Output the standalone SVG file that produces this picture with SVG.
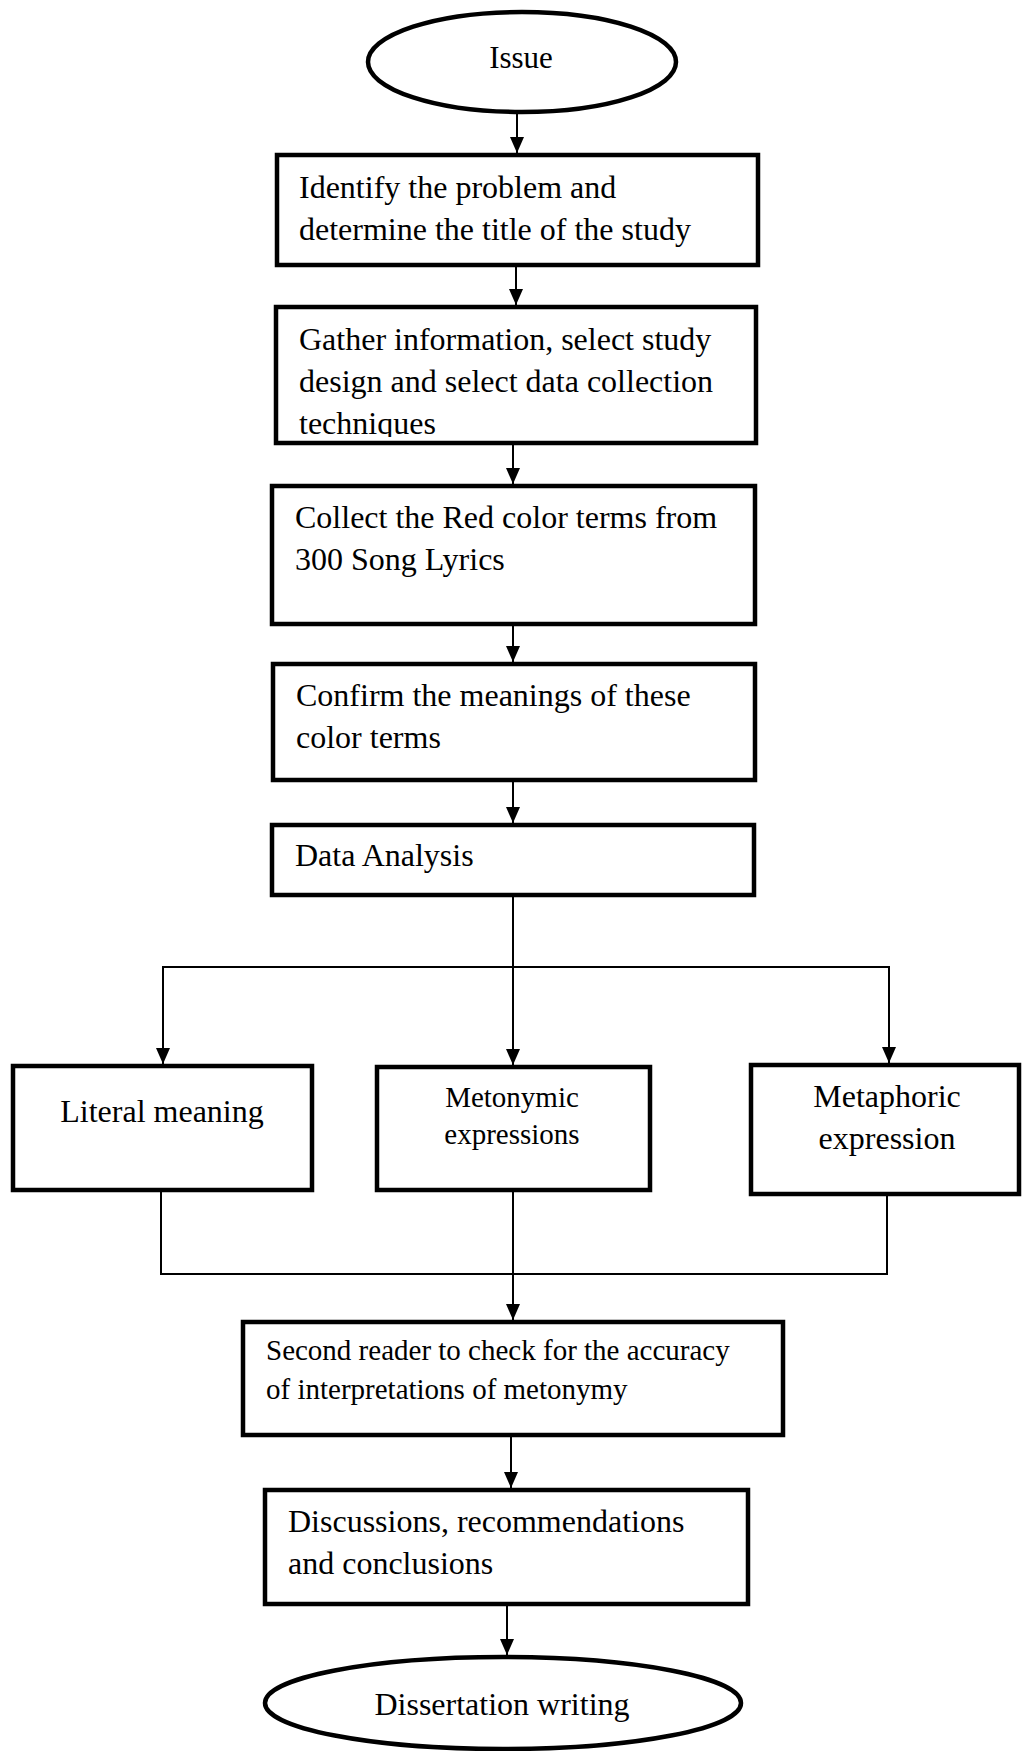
<svg xmlns="http://www.w3.org/2000/svg" width="1023" height="1751" viewBox="0 0 1023 1751">
<style>
.box{fill:#fff;stroke:#000;stroke-width:4.5}
.term{fill:#fff;stroke:#000;stroke-width:4.5}
.t{font-family:"Liberation Serif","Times New Roman",serif;font-size:32px;fill:#000}
.s{font-size:29px}
.c{text-anchor:middle}
.ln{fill:none;stroke:#000;stroke-width:2}
</style>
<defs>
<marker id="ah" viewBox="0 0 16 14" refX="16" refY="7" markerWidth="16" markerHeight="14" markerUnits="userSpaceOnUse" orient="auto">
<path d="M0,0 L16,7 L0,14 z" fill="#000"/>
</marker>
<clipPath id="clip2"><rect x="278" y="309" width="476" height="128"/></clipPath>
</defs>
<rect width="1023" height="1751" fill="#fff"/>

<g id="connectors">
<line class="ln" x1="517" y1="112" x2="517" y2="153" marker-end="url(#ah)"/>
<line class="ln" x1="516" y1="267" x2="516" y2="305" marker-end="url(#ah)"/>
<line class="ln" x1="513" y1="445" x2="513" y2="484" marker-end="url(#ah)"/>
<line class="ln" x1="513" y1="626" x2="513" y2="662" marker-end="url(#ah)"/>
<line class="ln" x1="513" y1="782" x2="513" y2="823" marker-end="url(#ah)"/>
<line class="ln" x1="513" y1="897" x2="513" y2="967"/>
<line class="ln" x1="162" y1="967" x2="890" y2="967"/>
<line class="ln" x1="163" y1="967" x2="163" y2="1064" marker-end="url(#ah)"/>
<line class="ln" x1="513" y1="967" x2="513" y2="1065" marker-end="url(#ah)"/>
<line class="ln" x1="889" y1="967" x2="889" y2="1063" marker-end="url(#ah)"/>
<line class="ln" x1="161" y1="1192" x2="161" y2="1274"/>
<line class="ln" x1="887" y1="1196" x2="887" y2="1274"/>
<line class="ln" x1="160" y1="1274" x2="888" y2="1274"/>
<line class="ln" x1="513" y1="1192" x2="513" y2="1320" marker-end="url(#ah)"/>
<line class="ln" x1="511" y1="1437" x2="511" y2="1488" marker-end="url(#ah)"/>
<line class="ln" x1="507" y1="1606" x2="507" y2="1655" marker-end="url(#ah)"/>
</g>

<g id="issue">
<ellipse class="term" cx="522" cy="62" rx="154" ry="50"/>
<text class="t c" x="521" y="68" style="font-size:31px">Issue</text>
</g>

<g id="identify">
<rect class="box" x="277" y="155" width="481" height="110"/>
<text class="t" x="299" y="198">Identify the problem and</text>
<text class="t" x="299" y="240">determine the title of the study</text>
</g>

<g id="gather">
<rect class="box" x="276" y="307" width="480" height="136"/>
<g clip-path="url(#clip2)">
<text class="t" x="299" y="350">Gather information, select study</text>
<text class="t" x="299" y="392">design and select data collection</text>
<text class="t" x="299" y="434">techniques</text>
</g>
</g>

<g id="collect">
<rect class="box" x="272" y="486" width="483" height="138"/>
<text class="t" x="295" y="528">Collect the Red color terms from</text>
<text class="t" x="295" y="570">300 Song Lyrics</text>
</g>

<g id="confirm">
<rect class="box" x="273" y="664" width="482" height="116"/>
<text class="t" x="296" y="706">Confirm the meanings of these</text>
<text class="t" x="296" y="748">color terms</text>
</g>

<g id="analysis">
<rect class="box" x="272" y="825" width="482" height="70"/>
<text class="t" x="295" y="866">Data Analysis</text>
</g>

<g id="literal">
<rect class="box" x="13" y="1066" width="299" height="124"/>
<text class="t c" x="162" y="1122">Literal meaning</text>
</g>

<g id="metonymic">
<rect class="box" x="377" y="1067" width="273" height="123"/>
<text class="t s c" x="512" y="1107">Metonymic</text>
<text class="t s c" x="512" y="1144">expressions</text>
</g>

<g id="metaphoric">
<rect class="box" x="751" y="1065" width="268" height="129"/>
<text class="t c" x="887" y="1107">Metaphoric</text>
<text class="t c" x="887" y="1149">expression</text>
</g>

<g id="second">
<rect class="box" x="243" y="1322" width="540" height="113"/>
<text class="t s" x="266" y="1360">Second reader to check for the accuracy</text>
<text class="t s" x="266" y="1399">of interpretations of metonymy</text>
</g>

<g id="discussions">
<rect class="box" x="265" y="1490" width="483" height="114"/>
<text class="t" x="288" y="1532">Discussions, recommendations</text>
<text class="t" x="288" y="1574">and conclusions</text>
</g>

<g id="dissertation">
<ellipse class="term" cx="503" cy="1703" rx="238" ry="46"/>
<text class="t c" x="502" y="1715">Dissertation writing</text>
</g>
</svg>
